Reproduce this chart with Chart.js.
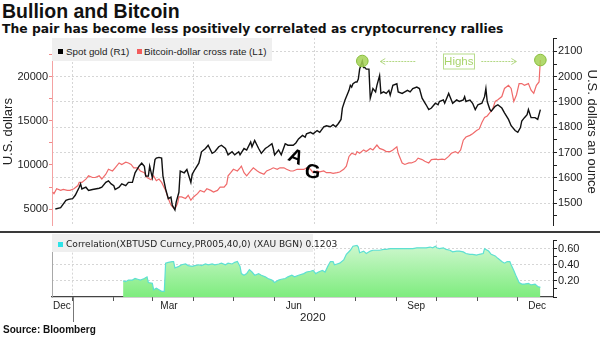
<!DOCTYPE html>
<html>
<head>
<meta charset="utf-8">
<title>Bullion and Bitcoin</title>
<script src="https://cdn.jsdelivr.net/npm/chart.js@4.4.1/dist/chart.umd.min.js"></script>
<style>
  html, body { margin: 0; padding: 0; background: #fff; }
  body { width: 600px; height: 337px; position: relative; overflow: hidden;
         font-family: "Liberation Sans", Arial, sans-serif; color: #111; }
  .txt { position: absolute; white-space: nowrap; line-height: 1; }
  #title { left: 2px; top: 1.8px; font-size: 19.5px; font-weight: bold; }
  #subtitle { left: 2px; top: 22.5px; font-size: 12.35px; font-weight: bold; font-family: "DejaVu Sans", Verdana, sans-serif; }
  #source { left: 3px; top: 324.8px; font-size: 10px; font-weight: bold; }
  canvas { position: absolute; left: 0; }
  #priceChart { top: 0; }
  #corrChart { top: 233px; }
  .legend { position: absolute; background: #efefef; color: #222; }
  .legend .sw { position: absolute; width: 5px; height: 5px; }
  .legend .lab { position: absolute; white-space: nowrap; line-height: 1; }
  #priceLegend { left: 52px; top: 38px; width: 220px; height: 23px; font-size: 9.8px; }
  #corrLegend { left: 52px; top: 234px; width: 261px; height: 18px; font-size: 9.1px; font-family: "DejaVu Sans", Verdana, sans-serif; }
  #divider { position: absolute; left: 0; top: 231px; width: 600px; height: 2px; background: #3a3a3a; }
</style>
</head>
<body>
<div class="txt" id="title">Bullion and Bitcoin</div>
<div class="txt" id="subtitle">The pair has become less positively correlated as cryptocurrency rallies</div>

<canvas id="priceChart" width="600" height="233"></canvas>
<canvas id="corrChart" width="600" height="104"></canvas>

<div class="legend" id="priceLegend">
  <span class="sw" style="left:6px;top:11px;background:#000"></span>
  <span class="lab" style="left:14px;top:8.5px">Spot gold (R1)</span>
  <span class="sw" style="left:85px;top:11px;background:#f25c5c"></span>
  <span class="lab" style="left:92px;top:8.5px">Bitcoin-dollar cross rate (L1)</span>
</div>
<div class="legend" id="corrLegend">
  <span class="sw" style="left:6px;top:8px;background:#2ee3e8"></span>
  <span class="lab" style="left:14px;top:6px">Correlation(XBTUSD Curncy,PR005,40,0) (XAU BGN) 0.1203</span>
</div>
<div id="divider"></div>
<div class="txt" id="source">Source: Bloomberg</div>

<script>
// Days are counted from 1 Jan 2020 (negative = Dec 2019)
const goldDays = [-13, -9, -5, -3, 0, 2, 5, 6, 7, 10,
  12, 15, 17, 20, 22, 25, 27, 29, 31, 32,
  35, 37, 40, 42, 45, 47, 50, 52, 54, 55,
  57, 58, 60, 62, 63, 65, 67, 68, 70, 72,
  74, 75, 77, 78, 80, 81, 84, 86, 89, 90,
  92, 95, 97, 100, 102, 105, 107, 110, 112, 115,
  117, 120, 122, 125, 126, 129, 131, 134, 135, 137,
  140, 142, 145, 147, 150, 151, 152, 155, 157, 160,
  162, 166, 168, 170, 173, 175, 176, 179, 181, 184,
  186, 189, 191, 194, 196, 198, 200, 202, 203, 205,
  208, 209, 210, 211, 213, 214, 215, 216, 218, 219,
  220, 221, 223, 224, 225, 226, 228, 229, 231, 232,
  234, 236, 238, 239, 241, 244, 245, 248, 250, 252,
  254, 256, 259, 261, 263, 266, 268, 270, 273, 275,
  276, 279, 280, 283, 284, 286, 289, 291, 294, 295,
  296, 299, 301, 303, 305, 308, 310, 311, 312, 314,
  315, 318, 320, 323, 325, 328, 330, 333, 335, 337,
  338, 340, 342, 343, 345, 348, 350, 352];

// Spot gold, USD per ounce (right axis)
const goldPrice = [1477, 1482, 1511, 1515, 1518, 1531, 1563, 1576, 1556, 1563,
  1550, 1554, 1556, 1559, 1563, 1582, 1588, 1576, 1569, 1554,
  1563, 1576, 1569, 1582, 1582, 1620, 1646, 1658, 1646, 1607,
  1607, 1646, 1601, 1672, 1678, 1681, 1678, 1607, 1556, 1518,
  1524, 1492, 1473, 1505, 1543, 1627, 1620, 1633, 1582, 1614,
  1633, 1658, 1703, 1716, 1729, 1697, 1703, 1723, 1729, 1716,
  1691, 1703, 1691, 1703, 1691, 1716, 1710, 1742, 1723, 1748,
  1716, 1697, 1716, 1723, 1735, 1716, 1691, 1710, 1691, 1735,
  1729, 1729, 1738, 1754, 1768, 1761, 1774, 1780, 1774, 1787,
  1780, 1802, 1806, 1802, 1810, 1802, 1815, 1831, 1876, 1908,
  1946, 1966, 1959, 1972, 1979, 1979, 1991, 2030, 2062, 2036,
  2036, 2030, 2030, 1915, 1934, 1953, 1940, 1966, 2004, 1934,
  1940, 1934, 1946, 1927, 1966, 1972, 1940, 1934, 1940, 1946,
  1940, 1953, 1959, 1953, 1915, 1889, 1870, 1876, 1895, 1889,
  1902, 1908, 1895, 1934, 1921, 1895, 1908, 1902, 1908, 1921,
  1902, 1908, 1895, 1870, 1889, 1895, 1921, 1953, 1902, 1870,
  1864, 1883, 1889, 1876, 1857, 1831, 1806, 1787, 1780, 1799,
  1825, 1838, 1850, 1870, 1838, 1838, 1831, 1870];

const btcDays = [-15, -14, -12, -9, -7, -4, -2, 1, 4, 5,
  7, 10, 12, 15, 17, 20, 22, 25, 27, 30,
  32, 35, 37, 40, 42, 44, 46, 49, 51, 54,
  56, 59, 61, 63, 65, 67, 70, 72, 74, 75,
  77, 79, 80, 82, 85, 87, 89, 91, 94, 96,
  99, 101, 104, 106, 109, 111, 114, 116, 117, 119,
  121, 124, 126, 127, 129, 131, 134, 136, 139, 141,
  144, 146, 149, 151, 154, 156, 159, 161, 164, 166,
  169, 171, 174, 176, 179, 181, 184, 186, 189, 191,
  194, 196, 199, 201, 204, 206, 208, 210, 213, 214,
  216, 219, 221, 224, 226, 229, 231, 234, 236, 239,
  241, 244, 245, 248, 250, 253, 255, 258, 260, 263,
  265, 268, 270, 273, 275, 278, 280, 283, 285, 288,
  290, 292, 294, 296, 299, 301, 304, 306, 308, 310,
  312, 314, 316, 318, 320, 323, 325, 328, 330, 332,
  334, 336, 338, 340, 343, 345, 347, 349, 351, 352];

// Bitcoin-dollar cross rate (left axis)
const btcPrice = [6930, 6750, 7300, 7120, 7230, 7120, 7120, 7300, 7670, 8030,
  8030, 8400, 8770, 8580, 8580, 8770, 8400, 8950, 9510, 9320,
  9680, 10230, 10060, 10310, 10230, 10060, 9680, 9680, 9320, 9130,
  8580, 8330, 8770, 8220, 8400, 8030, 7120, 6200, 5460, 5280,
  5020, 5650, 6380, 6380, 6200, 6560, 6010, 6380, 6750, 7120,
  6930, 7300, 7120, 6930, 7120, 7480, 7480, 7850, 8770, 9130,
  9510, 9320, 9680, 9870, 9130, 8770, 9320, 9680, 9320, 9130,
  8950, 9320, 9510, 9680, 9510, 9680, 9680, 9510, 9320, 9320,
  9510, 9500, 9500, 9680, 9510, 9130, 9320, 9210, 9320, 9130,
  9130, 9060, 9130, 9210, 9510, 9870, 10970, 11330, 11160, 11520,
  11330, 11710, 11520, 11880, 11710, 12260, 11880, 11710, 11520, 11520,
  11710, 12070, 11330, 10230, 10060, 10230, 10230, 10420, 10780, 10610,
  10420, 10230, 10610, 10670, 10610, 10670, 10610, 10970, 11330, 11520,
  11330, 11710, 12810, 13170, 13360, 13540, 13910, 14090, 14820, 15380,
  15560, 15930, 16290, 17210, 17390, 17760, 18680, 19040, 18680, 17210,
  17940, 19230, 19230, 19040, 19230, 18490, 18130, 19040, 19420, 21900];

const corrDays = [38, 40, 42, 45, 47, 49, 51, 54, 56, 57,
  60, 61, 63, 65, 67, 69, 70, 72, 75, 76,
  77, 80, 82, 85, 87, 90, 92, 95, 97, 100,
  102, 105, 107, 110, 112, 115, 117, 120, 122, 124,
  126, 127, 129, 131, 133, 135, 137, 140, 142, 145,
  147, 150, 152, 155, 157, 160, 162, 165, 167, 170,
  174, 176, 179, 181, 183, 185, 188, 190, 192, 194,
  196, 197, 199, 201, 204, 206, 209, 211, 214, 215,
  216, 219, 221, 224, 226, 229, 231, 234, 236, 239,
  241, 244, 246, 249, 251, 254, 256, 259, 261, 264,
  266, 269, 271, 273, 274, 276, 279, 281, 284, 286,
  289, 291, 294, 296, 299, 301, 304, 306, 309, 310,
  311, 313, 315, 318, 320, 323, 325, 327, 329, 330,
  332, 334, 336, 338, 340, 343, 345, 348, 350, 352];

// Rolling 40-day correlation, XBTUSD vs XAU (lower panel)
const corrValue = [0.20, 0.19, 0.21, 0.21, 0.23, 0.22, 0.21, 0.23, 0.25, 0.18,
  0.17, 0.09, 0.11, 0.09, 0.07, 0.07, 0.42, 0.43, 0.44, 0.44,
  0.36, 0.38, 0.40, 0.41, 0.39, 0.38, 0.39, 0.40, 0.39, 0.41,
  0.40, 0.41, 0.40, 0.41, 0.42, 0.40, 0.42, 0.41, 0.43, 0.44,
  0.38, 0.29, 0.27, 0.29, 0.34, 0.31, 0.27, 0.29, 0.27, 0.25,
  0.23, 0.21, 0.18, 0.21, 0.22, 0.23, 0.25, 0.27, 0.25, 0.27,
  0.29, 0.31, 0.32, 0.33, 0.29, 0.31, 0.33, 0.31, 0.38, 0.44,
  0.44, 0.40, 0.41, 0.42, 0.46, 0.53, 0.58, 0.63, 0.64, 0.62,
  0.55, 0.57, 0.54, 0.57, 0.58, 0.58, 0.58, 0.59, 0.59, 0.60,
  0.60, 0.60, 0.60, 0.60, 0.60, 0.60, 0.60, 0.61, 0.61, 0.61,
  0.61, 0.62, 0.61, 0.63, 0.61, 0.60, 0.61, 0.59, 0.58, 0.56,
  0.57, 0.57, 0.56, 0.54, 0.53, 0.53, 0.52, 0.53, 0.54, 0.60,
  0.59, 0.57, 0.53, 0.51, 0.48, 0.44, 0.42, 0.44, 0.44, 0.40,
  0.33, 0.25, 0.18, 0.16, 0.16, 0.17, 0.15, 0.16, 0.13, 0.1203];

// Axis ticks
const btcTicks = [5000, 7500, 10000, 12500, 15000, 17500, 20000, 22500];
const goldTicks = [1450, 1500, 1550, 1600, 1650, 1700, 1750, 1800, 1850, 1900, 1950, 2000, 2050, 2100, 2150];
const corrTicks = [0, 0.1, 0.2, 0.3, 0.4, 0.5, 0.6, 0.7];

// x axis: month starts, quarter grid lines, mid-month labels
const monthStarts = [0, 31, 60, 91, 121, 152, 182, 213, 244, 274, 305, 335];
const quarterStarts = [0, 91, 182, 274];
const monthLabels = ['Dec', 'Mar', 'Jun', 'Sep', 'Dec'];
const monthLabelDays = [-8, 72.5, 166.5, 258.5, 349.5];
const yearLabel = '2020';
const yearLabelDay = 180.75;
const dayMin = -15.5, dayMax = 361.5;

const goldPeak = goldPrice.indexOf(Math.max(...goldPrice));
const btcLast = btcPrice.length - 1;

Chart.defaults.font.family = '"Liberation Sans", Arial, sans-serif';
Chart.defaults.font.size = 11;
Chart.defaults.color = '#222';

const toPoints = (xs, ys) => xs.map((d, i) => ({ x: d, y: ys[i] }));
const tickList = list => s => { s.ticks = list.map(v => ({ value: v })); };
const clear = 'rgba(0,0,0,0)';
const gridGrey = '#d6d6d6';
const markerFill = 'rgba(165,210,85,0.85)';
const markerEdge = '#86bd3a';

// "Highs" note between the two circled highs, plus the hand-drawn letters
const highsNote = {
  id: 'highsNote',
  afterDatasetsDraw(chart) {
    const { ctx, scales } = chart;
    const gx = scales.x.getPixelForValue(goldDays[goldPeak]);
    const bx = scales.x.getPixelForValue(btcDays[btcLast]);
    const y = Math.round((scales.yGold.getPixelForValue(goldPrice[goldPeak]) +
                          scales.yBtc.getPixelForValue(btcPrice[btcLast])) / 2) + 0.5;
    ctx.save();
    ctx.strokeStyle = '#b3d884';
    ctx.lineWidth = 1;
    ctx.setLineDash([2, 1]);
    ctx.beginPath();
    ctx.moveTo(gx + 18, y); ctx.lineTo(gx + 54, y);
    ctx.moveTo(gx + 119, y); ctx.lineTo(bx - 24, y);
    ctx.stroke();
    ctx.setLineDash([]);
    ctx.beginPath();
    ctx.moveTo(gx + 23, y - 3); ctx.lineTo(gx + 18, y); ctx.lineTo(gx + 23, y + 3);
    ctx.moveTo(bx - 29, y - 3); ctx.lineTo(bx - 24, y); ctx.lineTo(bx - 29, y + 3);
    ctx.stroke();
    // labelled box
    ctx.strokeStyle = '#b8dc8c';
    ctx.strokeRect(Math.round(gx + 81) + 0.5, Math.round(y - 8), 31, 15);
    ctx.fillStyle = '#a9d46c';
    ctx.font = '11.5px "Liberation Sans", Arial, sans-serif';
    ctx.textAlign = 'center';
    ctx.textBaseline = 'middle';
    ctx.fillText('Highs', gx + 96.5, y);

    ctx.fillStyle = '#000';
    ctx.font = 'bold 20px "Liberation Sans", Arial, sans-serif';
    ctx.translate(295.5, 157.5);
    ctx.rotate(0.4);
    ctx.fillText('A', 0, 0);
    ctx.rotate(-0.4);
    ctx.translate(17, 15);
    ctx.rotate(0.1);
    ctx.fillText('G', 0, 0);
    ctx.restore();
  }
};

new Chart(document.getElementById('priceChart'), {
  type: 'line',
  data: {
    datasets: [
      {
        label: 'Spot gold (R1)',
        data: toPoints(goldDays, goldPrice),
        yAxisID: 'yGold',
        borderColor: '#111',
        borderWidth: 1.4,
        pointRadius: c => c.dataIndex === goldPeak ? 5.8 : 0,
        pointBackgroundColor: markerFill,
        pointBorderColor: markerEdge,
        pointBorderWidth: 1,
        tension: 0
      },
      {
        label: 'Bitcoin-dollar cross rate (L1)',
        data: toPoints(btcDays, btcPrice),
        yAxisID: 'yBtc',
        borderColor: '#f06a6a',
        borderWidth: 1.2,
        pointRadius: c => c.dataIndex === btcLast ? 5.8 : 0,
        pointBackgroundColor: markerFill,
        pointBorderColor: markerEdge,
        pointBorderWidth: 1,
        tension: 0
      }
    ]
  },
  options: {
    responsive: false,
    animation: false,
    layout: { padding: { top: 38, bottom: 2, left: 0, right: 0 } },
    plugins: { legend: { display: false }, tooltip: { enabled: false } },
    scales: {
      x: {
        type: 'linear',
        min: dayMin,
        max: dayMax,
        afterBuildTicks: tickList(quarterStarts),
        afterFit: s => { s.height = 0; },
        ticks: { callback: () => '' },
        grid: { color: gridGrey, drawTicks: false },
        border: { display: false, dash: [2, 2] }
      },
      yBtc: {
        type: 'linear',
        position: 'left',
        min: 3150,
        max: 24400,
        afterBuildTicks: tickList(btcTicks),
        afterFit: s => { s.width = 52; },
        ticks: {
          autoSkip: false,
          padding: 1,
          font: { size: 11 },
          callback: v => v % 5000 === 0 ? String(v) : ''
        },
        grid: { drawOnChartArea: false, tickLength: 3, tickColor: '#f08a8a' },
        border: { color: '#f4a2a2', width: 1 },
        title: { display: true, text: 'U.S. dollars', font: { size: 13 }, padding: { top: 1, bottom: 0 } }
      },
      yGold: {
        type: 'linear',
        position: 'right',
        min: 1412,
        max: 2153,
        afterBuildTicks: tickList(goldTicks),
        afterFit: s => { s.width = 47; },
        ticks: {
          autoSkip: false,
          padding: 1,
          font: { size: 11 },
          callback: v => v % 100 === 0 ? String(v) : ''
        },
        grid: {
          color: c => c.tick && c.tick.value % 100 === 0 ? gridGrey : clear,
          tickLength: 4,
          tickColor: '#222'
        },
        border: { color: '#222', width: 1, dash: [2, 2] },
        title: { display: true, text: 'U.S. dollars an ounce', font: { size: 13 }, padding: { top: 1, bottom: 0 } }
      }
    }
  },
  plugins: [highsNote]
});

// Divider running from the Jan 1 tick down past the year label
const yearMark = {
  id: 'yearMark',
  afterDraw(chart) {
    const { ctx, chartArea, scales } = chart;
    const x = Math.round(scales.x.getPixelForValue(0)) + 0.5;
    ctx.save();
    ctx.strokeStyle = '#777';
    ctx.lineWidth = 1;
    ctx.beginPath();
    ctx.moveTo(x, chartArea.bottom);
    ctx.lineTo(x, chartArea.bottom + 25);
    ctx.stroke();
    ctx.restore();
  }
};

new Chart(document.getElementById('corrChart'), {
  type: 'line',
  data: {
    datasets: [{
      label: 'Correlation(XBTUSD Curncy,PR005,40,0) (XAU BGN)',
      data: toPoints(corrDays, corrValue),
      yAxisID: 'yCorr',
      borderColor: '#5ee0d2',
      borderWidth: 1.2,
      pointRadius: 0,
      tension: 0,
      fill: 'origin',
      backgroundColor: c => {
        const { ctx, chartArea } = c.chart;
        if (!chartArea) return '#a8f0a8';
        const g = ctx.createLinearGradient(0, chartArea.top, 0, chartArea.bottom);
        g.addColorStop(0, '#d4f8d4');
        g.addColorStop(1, '#7eec7e');
        return g;
      }
    }]
  },
  options: {
    responsive: false,
    animation: false,
    layout: { padding: { top: 1, bottom: 0, left: 0, right: 0 } },
    plugins: { legend: { display: false }, tooltip: { enabled: false } },
    scales: {
      x: {
        type: 'linear',
        position: 'bottom',
        weight: 0,
        min: dayMin,
        max: dayMax,
        afterBuildTicks: tickList(monthStarts),
        afterFit: s => { s.height = 3; },
        ticks: { callback: () => '', autoSkip: false },
        grid: {
          color: c => c.tick && quarterStarts.includes(c.tick.value) ? gridGrey : clear,
          tickLength: 4,
          tickColor: '#555'
        },
        border: { color: '#444', width: 1.2, dash: [2, 2] }
      },
      xLab: {
        type: 'linear',
        position: 'bottom',
        weight: 1,
        min: dayMin,
        max: dayMax,
        afterBuildTicks: tickList(monthLabelDays),
        afterFit: s => { s.height = 11; },
        ticks: { callback: (v, i) => monthLabels[i], autoSkip: false, maxRotation: 0, padding: 0, font: { size: 10 } },
        grid: { drawOnChartArea: false, drawTicks: false },
        border: { display: false }
      },
      xYear: {
        type: 'linear',
        position: 'bottom',
        weight: 2,
        min: dayMin,
        max: dayMax,
        afterBuildTicks: tickList([yearLabelDay]),
        afterFit: s => { s.height = 26; },
        ticks: { callback: () => yearLabel, autoSkip: false, maxRotation: 0, padding: 0, font: { size: 11.5 } },
        grid: { drawOnChartArea: false, drawTicks: false },
        border: { display: false }
      },
      yEdge: {
        position: 'left',
        afterFit: s => { s.width = 52; },
        ticks: { display: false },
        grid: { drawOnChartArea: false, drawTicks: false },
        border: { color: '#a8a8a8', width: 1 }
      },
      yCorr: {
        position: 'right',
        min: 0,
        max: 0.7,
        afterBuildTicks: tickList(corrTicks),
        afterFit: s => { s.width = 47; },
        ticks: {
          autoSkip: false,
          padding: 1,
          font: { size: 11 },
          callback: v => [2, 4, 6].includes(Math.round(v * 10)) ? v.toFixed(2) : ''
        },
        grid: {
          color: c => c.tick && [2, 4, 6].includes(Math.round(c.tick.value * 10)) ? gridGrey : clear,
          tickLength: 4,
          tickColor: '#222'
        },
        border: { color: '#222', width: 1, dash: [2, 2] }
      }
    }
  },
  plugins: [yearMark]
});
</script>
</body>
</html>
